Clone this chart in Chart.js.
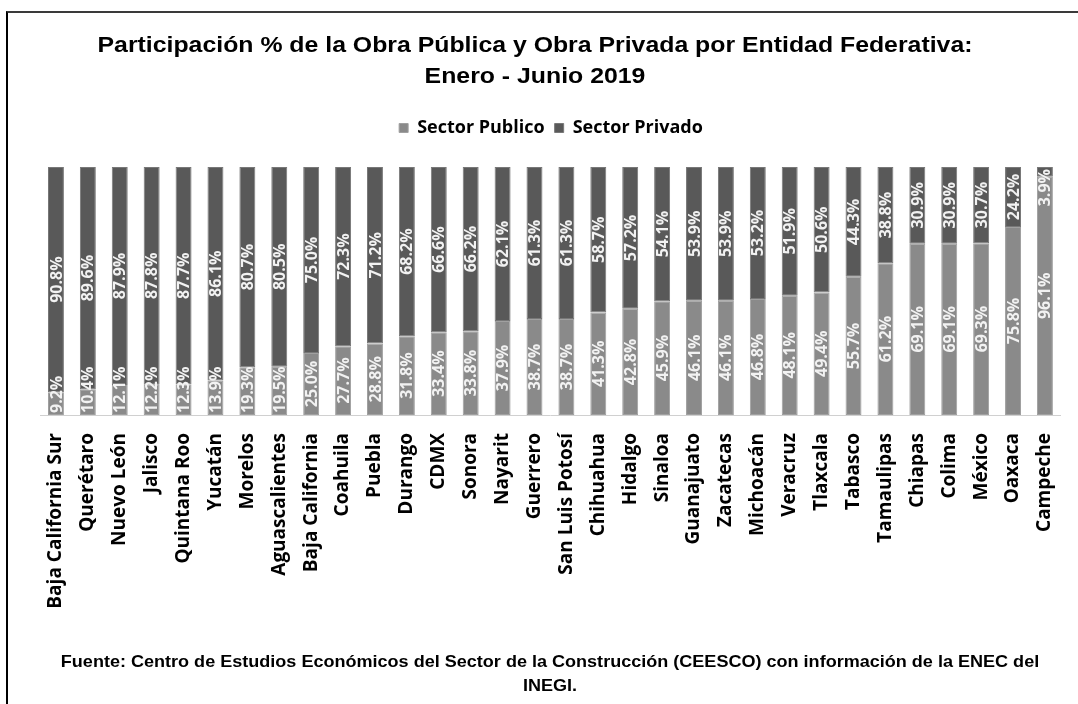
<!DOCTYPE html>
<html>
<head>
<meta charset="utf-8">
<script src="https://cdn.jsdelivr.net/npm/chart.js@4/dist/chart.umd.min.js"></script>
<style>
  html, body { margin: 0; padding: 0; background: #fff; }
  #frame { position: absolute; left: 0; top: 0; width: 1078px; height: 704px; }
  #edge {
    position: absolute; left: 6px; top: 11px; width: 1072px; height: 693px;
    border-left: 2px solid #000; border-top: 2px solid #3a3a3a; box-sizing: border-box;
    pointer-events: none;
  }
  canvas { display: block; }
</style>
</head>
<body>
<div id="frame"><canvas id="c" width="1078" height="704"></canvas></div>
<div id="edge"></div>
<script>
// Entidades federativas, ordered by public-works share
const entidades = [
  'Baja California Sur', 'Querétaro', 'Nuevo León', 'Jalisco', 'Quintana Roo',
  'Yucatán', 'Morelos', 'Aguascalientes', 'Baja California', 'Coahuila',
  'Puebla', 'Durango', 'CDMX', 'Sonora', 'Nayarit', 'Guerrero',
  'San Luis Potosí', 'Chihuahua', 'Hidalgo', 'Sinaloa', 'Guanajuato',
  'Zacatecas', 'Michoacán', 'Veracruz', 'Tlaxcala', 'Tabasco',
  'Tamaulipas', 'Chiapas', 'Colima', 'México', 'Oaxaca', 'Campeche'
];

// Participación % del sector público
const sectorPublico = [
  9.2, 10.4, 12.1, 12.2, 12.3, 13.9, 19.3, 19.5, 25.0, 27.7, 28.8,
  31.8, 33.4, 33.8, 37.9, 38.7, 38.7, 41.3, 42.8, 45.9, 46.1,
  46.1, 46.8, 48.1, 49.4, 55.7, 61.2, 69.1, 69.1, 69.3, 75.8, 96.1
];

// Participación % del sector privado
const sectorPrivado = [
  90.8, 89.6, 87.9, 87.8, 87.7, 86.1, 80.7, 80.5, 75.0, 72.3, 71.2,
  68.2, 66.6, 66.2, 62.1, 61.3, 61.3, 58.7, 57.2, 54.1, 53.9,
  53.9, 53.2, 51.9, 50.6, 44.3, 38.8, 30.9, 30.9, 30.7, 24.2, 3.9
];

const tituloLineas = [
  'Participación % de la Obra Pública y Obra Privada por Entidad Federativa:',
  'Enero - Junio 2019'
];
const fuenteLineas = [
  'Fuente: Centro de Estudios Económicos del Sector de la Construcción (CEESCO) con información de la ENEC del',
  'INEGI.'
];

const GEO_FONT = '"Open Sans", "DejaVu Sans", sans-serif';
const ARIAL = '"Liberation Sans", Arial, sans-serif';

// Heading and source note, drawn slightly widened like the original report
const headingText = {
  id: 'headingText',
  afterDraw(chart) {
    const ctx = chart.ctx;
    const put = (lines, cx, ys, size) => {
      ctx.save();
      ctx.font = 'bold ' + size + 'px ' + ARIAL;
      ctx.fillStyle = '#000';
      ctx.textAlign = 'center';
      ctx.textBaseline = 'middle';
      lines.forEach((t, i) => {
        ctx.save();
        ctx.translate(cx, ys[i]);
        ctx.scale(1.15, 1);
        ctx.fillText(t, 0, 0);
        ctx.restore();
      });
      ctx.restore();
    };
    put(tituloLineas, 535, [46, 77], 21.6);
    put(fuenteLineas, 550, [663, 687], 15.7);
  }
};

// Rotated percentage labels inside each bar segment
const segmentLabels = {
  id: 'segmentLabels',
  afterDatasetsDraw(chart) {
    const ctx = chart.ctx;
    const area = chart.chartArea;
    ctx.save();
    ctx.font = 'bold 16px ' + GEO_FONT;
    ctx.fillStyle = '#f2f2f2';
    ctx.textAlign = 'center';
    ctx.textBaseline = 'middle';
    chart.data.datasets.forEach((ds, di) => {
      const meta = chart.getDatasetMeta(di);
      meta.data.forEach((bar, i) => {
        const txt = ds.data[i].toFixed(1) + '%';
        const w = ctx.measureText(txt).width;
        const top = Math.min(bar.y, bar.base);
        const bottom = Math.max(bar.y, bar.base);
        let cy = (top + bottom) / 2;
        cy = Math.max(cy, area.top + w / 2 + 2);
        cy = Math.min(cy, area.bottom - w / 2 - 2);
        ctx.save();
        ctx.translate(bar.x + 1, cy);
        ctx.rotate(-Math.PI / 2);
        ctx.fillText(txt, 0, 0);
        ctx.restore();
      });
    });
    ctx.restore();
  }
};

new Chart(document.getElementById('c'), {
  type: 'bar',
  data: {
    labels: entidades,
    datasets: [
      {
        label: 'Sector Publico',
        data: sectorPublico,
        backgroundColor: '#8a8a8a',
        borderColor: '#a0a0a0',
        borderWidth: 1,
        borderSkipped: false,
        barPercentage: 0.5,
        categoryPercentage: 1.0
      },
      {
        label: 'Sector Privado',
        data: sectorPrivado,
        backgroundColor: '#595959',
        borderColor: '#787878',
        borderWidth: 1,
        borderSkipped: false,
        barPercentage: 0.5,
        categoryPercentage: 1.0
      }
    ]
  },
  options: {
    responsive: false,
    animation: false,
    devicePixelRatio: 1,
    layout: { padding: { left: 40, right: 16, top: 109, bottom: 0 } },
    plugins: {
      title: { display: false },
      legend: {
        display: true,
        position: 'top',
        labels: {
          color: '#000',
          font: { family: GEO_FONT, size: 18, weight: 'bold' },
          boxWidth: 9,
          boxHeight: 9,
          padding: 10
        }
      },
      tooltip: { enabled: false }
    },
    scales: {
      x: {
        stacked: true,
        grid: { display: false },
        border: { display: true, color: '#d0d0d0', width: 1 },
        ticks: {
          color: '#000',
          font: { family: GEO_FONT, size: 19, weight: 'bold' },
          maxRotation: 90,
          minRotation: 90,
          autoSkip: false,
          padding: 10
        },
        afterFit(scale) { scale.height = 289; }
      },
      // empty band between the legend and the bars
      gap: {
        type: 'category',
        position: 'top',
        grid: { display: false },
        border: { display: false },
        ticks: { display: false },
        afterFit(scale) { scale.height = 20; }
      },
      y: {
        stacked: true,
        display: false,
        min: 0,
        max: 100
      }
    }
  },
  plugins: [segmentLabels, headingText]
});
</script>
</body>
</html>
